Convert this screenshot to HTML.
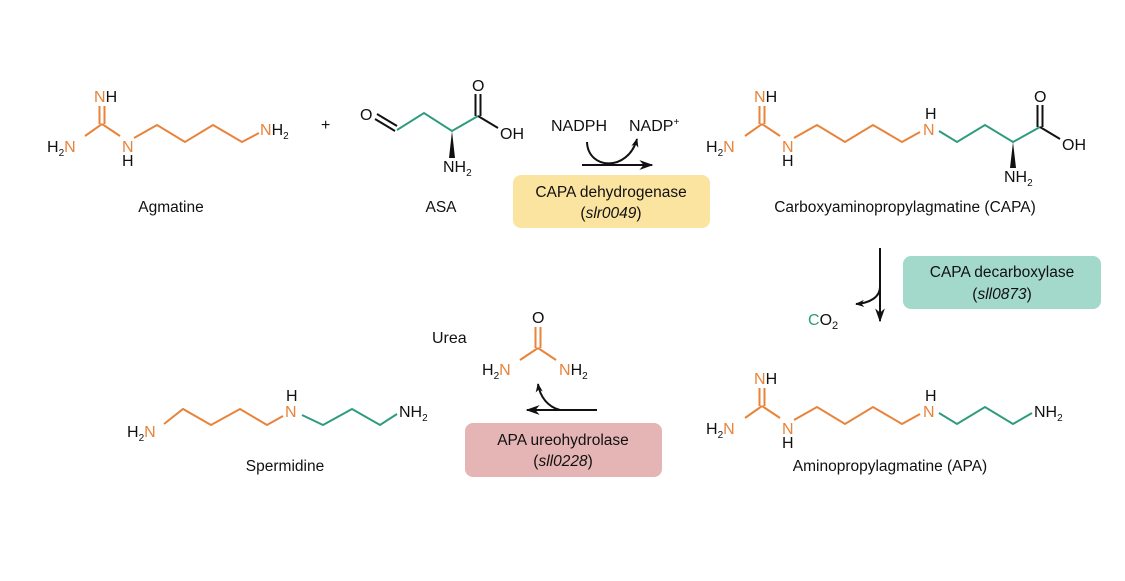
<!DOCTYPE html>
<html><head><meta charset="utf-8"><style>
html,body{margin:0;padding:0;background:#fff;}
svg{display:block;font-family:"Liberation Sans",sans-serif;}
.t{font-size:16px;fill:#111;}
.o{fill:#E8833A;}
.g{fill:#2E9B7E;}
.ob{stroke:#E8833A;stroke-width:2;fill:none;}
.gb{stroke:#2E9B7E;stroke-width:2;fill:none;}
.kb{stroke:#111;stroke-width:2;fill:none;}
.lab{font-size:15.5px;fill:#111;text-anchor:middle;}
</style></head><body>
<svg width="1125" height="581" viewBox="0 0 1125 581" xmlns="http://www.w3.org/2000/svg">
<defs>
<marker id="ah" viewBox="0 0 10 10" refX="9" refY="5" markerWidth="9" markerHeight="9" orient="auto-start-reverse" markerUnits="userSpaceOnUse"><path d="M0,1 L10,5 L0,9 L3,5 z" fill="#111"/></marker>
<marker id="ah2" viewBox="0 0 10 10" refX="9" refY="5" markerWidth="14" markerHeight="14" orient="auto" markerUnits="userSpaceOnUse"><path d="M0,1.5 L10,5 L0,8.5 L3,5 z" fill="#111"/></marker>
</defs>

<!-- Agmatine -->
<text class="t" x="94" y="102"><tspan class="o">N</tspan>H</text>
<line class="ob" x1="99.5" y1="106" x2="99.5" y2="124"/><line class="ob" x1="104.5" y1="106" x2="104.5" y2="124"/>
<line class="ob" x1="102" y1="124" x2="85" y2="136"/><line class="ob" x1="102" y1="124" x2="120" y2="136"/>
<text class="t" x="47" y="152">H<tspan font-size="10" dy="4">2</tspan><tspan class="o" dy="-4">N</tspan></text>
<text class="t" x="122" y="152"><tspan class="o">N</tspan></text>
<text class="t" x="122" y="166">H</text>
<polyline class="ob" points="134,138 157,125 185,142 213,125 242,142 259,133"/>
<text class="t" x="260" y="135"><tspan class="o">N</tspan>H<tspan font-size="10" dy="4">2</tspan></text>
<text class="t" x="321" y="130" font-size="17">+</text>
<text class="lab" x="171" y="212">Agmatine</text>

<!-- ASA -->
<text class="t" x="360" y="120">O</text>
<line class="kb" x1="375" y1="119" x2="395" y2="131" stroke-width="1.8"/><line class="kb" x1="377" y1="114" x2="397" y2="126" stroke-width="1.8"/>
<polyline class="gb" points="397,130 424,113 452,131 478,116"/>
<line class="kb" x1="475.5" y1="94" x2="475.5" y2="116"/><line class="kb" x1="480.5" y1="94" x2="480.5" y2="116"/>
<text class="t" x="472" y="91">O</text>
<line class="kb" x1="478" y1="116" x2="498" y2="128"/>
<text class="t" x="500" y="139">OH</text>
<polygon points="452,131 449,158 455,158" fill="#111"/>
<text class="t" x="443" y="172">NH<tspan font-size="10" dy="4">2</tspan></text>
<text class="lab" x="441" y="212">ASA</text>

<!-- dehydrogenase arrow -->
<text class="t" x="551" y="131">NADPH</text>
<text class="t" x="629" y="131">NADP<tspan font-size="10" dy="-6">+</tspan></text>
<line class="kb" x1="582" y1="165" x2="652" y2="165" stroke-width="1.8" marker-end="url(#ah2)"/>
<path class="kb" stroke-width="1.5" d="M587,142 C588,170 628,172 637,139" marker-end="url(#ah)"/>
<rect x="513" y="175" width="197" height="53" rx="8" fill="#FBE3A0"/>
<text class="lab" x="611" y="197">CAPA dehydrogenase</text>
<text class="lab" x="611" y="218">(<tspan font-style="italic">slr0049</tspan>)</text>

<!-- CAPA -->
<text class="t" x="754" y="102"><tspan class="o">N</tspan>H</text>
<line class="ob" x1="759.5" y1="106" x2="759.5" y2="124"/><line class="ob" x1="764.5" y1="106" x2="764.5" y2="124"/>
<line class="ob" x1="762" y1="124" x2="745" y2="136"/><line class="ob" x1="762" y1="124" x2="780" y2="136"/>
<text class="t" x="706" y="152">H<tspan font-size="10" dy="4">2</tspan><tspan class="o" dy="-4">N</tspan></text>
<text class="t" x="782" y="152"><tspan class="o">N</tspan></text>
<text class="t" x="782" y="166">H</text>
<polyline class="ob" points="794,138 817,125 845,142 873,125 902,142 920,132"/>
<text class="t" x="925" y="119">H</text>
<text class="t" x="923" y="135"><tspan class="o">N</tspan></text>
<polyline class="gb" points="939,131 957,142 985,125 1013,142 1040,127"/>
<line class="kb" x1="1037.5" y1="105" x2="1037.5" y2="127"/><line class="kb" x1="1042.5" y1="105" x2="1042.5" y2="127"/>
<text class="t" x="1034" y="102">O</text>
<line class="kb" x1="1040" y1="127" x2="1060" y2="139"/>
<text class="t" x="1062" y="150">OH</text>
<polygon points="1013,142 1010,168 1016,168" fill="#111"/>
<text class="t" x="1004" y="182">NH<tspan font-size="10" dy="4">2</tspan></text>
<text class="lab" x="905" y="212">Carboxyaminopropylagmatine (CAPA)</text>

<!-- decarboxylase -->
<line class="kb" x1="880" y1="248" x2="880" y2="321" stroke-width="1.8" marker-end="url(#ah2)"/>
<path class="kb" stroke-width="1.5" d="M880,287 C880,297 870,303 856,304" marker-end="url(#ah)"/>
<text class="t" x="808" y="325"><tspan class="g">C</tspan>O<tspan font-size="11" dy="4">2</tspan></text>
<rect x="903" y="256" width="198" height="53" rx="8" fill="#A3D9CB"/>
<text class="lab" x="1002" y="277">CAPA decarboxylase</text>
<text class="lab" x="1002" y="299">(<tspan font-style="italic">sll0873</tspan>)</text>

<!-- APA -->
<text class="t" x="754" y="384"><tspan class="o">N</tspan>H</text>
<line class="ob" x1="759.5" y1="388" x2="759.5" y2="406"/><line class="ob" x1="764.5" y1="388" x2="764.5" y2="406"/>
<line class="ob" x1="762" y1="406" x2="745" y2="418"/><line class="ob" x1="762" y1="406" x2="780" y2="418"/>
<text class="t" x="706" y="434">H<tspan font-size="10" dy="4">2</tspan><tspan class="o" dy="-4">N</tspan></text>
<text class="t" x="782" y="434"><tspan class="o">N</tspan></text>
<text class="t" x="782" y="448">H</text>
<polyline class="ob" points="794,420 817,407 845,424 873,407 902,424 920,414"/>
<text class="t" x="925" y="401">H</text>
<text class="t" x="923" y="417"><tspan class="o">N</tspan></text>
<polyline class="gb" points="939,413 957,424 985,407 1013,424 1032,413"/>
<text class="t" x="1034" y="417">NH<tspan font-size="10" dy="4">2</tspan></text>
<text class="lab" x="890" y="471">Aminopropylagmatine (APA)</text>

<!-- ureohydrolase -->
<line class="kb" x1="597" y1="410" x2="527" y2="410" stroke-width="1.8" marker-end="url(#ah2)"/>
<path class="kb" stroke-width="1.5" d="M560,410 C548,407 540,397 538,384" marker-end="url(#ah)"/>
<rect x="465" y="423" width="197" height="54" rx="8" fill="#E5B5B5"/>
<text class="lab" x="563" y="445">APA ureohydrolase</text>
<text class="lab" x="563" y="466">(<tspan font-style="italic">sll0228</tspan>)</text>

<!-- Urea -->
<text class="t" x="432" y="343">Urea</text>
<text class="t" x="532" y="323">O</text>
<line class="ob" x1="535.5" y1="327" x2="535.5" y2="348"/><line class="ob" x1="540.5" y1="327" x2="540.5" y2="348"/>
<line class="ob" x1="538" y1="348" x2="520" y2="360"/><line class="ob" x1="538" y1="348" x2="556" y2="360"/>
<text class="t" x="482" y="375">H<tspan font-size="10" dy="4">2</tspan><tspan class="o" dy="-4">N</tspan></text>
<text class="t" x="559" y="375"><tspan class="o">N</tspan>H<tspan font-size="10" dy="4">2</tspan></text>

<!-- Spermidine -->
<text class="t" x="127" y="437">H<tspan font-size="10" dy="4">2</tspan><tspan class="o" dy="-4">N</tspan></text>
<polyline class="ob" points="164,424 183,409 211,425 240,409 267,425 283,416"/>
<text class="t" x="286" y="401">H</text>
<text class="t" x="285" y="417"><tspan class="o">N</tspan></text>
<polyline class="gb" points="302,415 323,425 352,409 380,425 397,414"/>
<text class="t" x="399" y="417">NH<tspan font-size="10" dy="4">2</tspan></text>
<text class="lab" x="285" y="471">Spermidine</text>
</svg>
</body></html>
